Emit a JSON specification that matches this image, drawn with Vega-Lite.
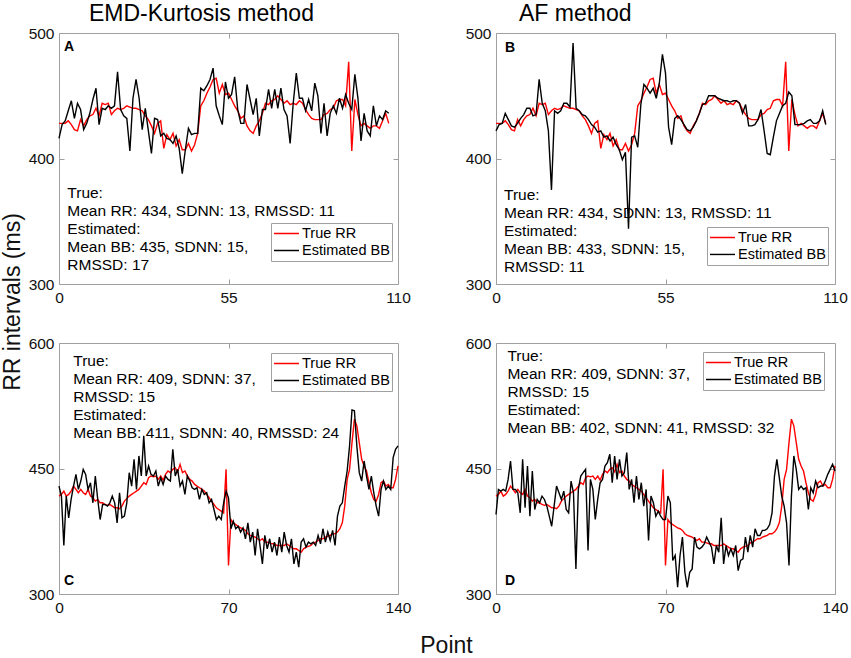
{
"$schema":"https://vega.github.io/schema/vega-lite/v6.json",
"padding":{"top":2,"left":0,"right":0,"bottom":0},
"config":{
 "font":"Liberation Sans",
 "view":{"stroke":"#a0a0a0"},
 "axis":{"grid":false,"domain":false,"tickSize":-5,"tickColor":"#a0a0a0","labelFontSize":15.5,"labelColor":"#111111","labelPadding":10,"labelFlush":false,"titleFontWeight":"normal","titleColor":"#111111","titleFontSize":23},
 "axisX":{"labelPadding":11},
 "legend":{"symbolType":"stroke","symbolSize":625,"symbolStrokeWidth":1.3,"labelFontSize":14.5,"labelColor":"#000000","fillColor":"#ffffff","strokeColor":"#a0a0a0","padding":2,"rowPadding":0,"clipHeight":17,"labelOffset":2,"labelLimit":300},
 "title":{"fontWeight":"normal"}
},
"datasets":{
"ab":[
{"i":0,"rr":428,"a":416,"b":422},{"i":1,"rr":428,"a":427,"b":427},{"i":2,"rr":428,"a":430,"b":428},{"i":3,"rr":430,"a":438,"b":436},{"i":4,"rr":427,"a":446,"b":431},{"i":5,"rr":423,"a":432,"b":426},{"i":6,"rr":422,"a":444,"b":425},{"i":7,"rr":431,"a":439,"b":428},{"i":8,"rr":426,"a":423,"b":432},{"i":9,"rr":431,"a":428,"b":435},
{"i":10,"rr":434,"a":436,"b":440},{"i":11,"rr":435,"a":447,"b":440},{"i":12,"rr":440,"a":456,"b":434},{"i":13,"rr":434,"a":427,"b":435},{"i":14,"rr":444,"a":440,"b":463},{"i":15,"rr":443,"a":439,"b":444},{"i":16,"rr":444,"a":442,"b":438},{"i":17,"rr":435,"a":440,"b":422},{"i":18,"rr":438,"a":442,"b":375},{"i":19,"rr":440,"a":469,"b":438},
{"i":20,"rr":439,"a":439,"b":436},{"i":21,"rr":440,"a":434,"b":438},{"i":22,"rr":442,"a":432,"b":444},{"i":23,"rr":441,"a":406,"b":444},{"i":24,"rr":440,"a":448,"b":441},{"i":25,"rr":440,"a":463,"b":492},{"i":26,"rr":439,"a":448,"b":440},{"i":27,"rr":438,"a":423,"b":438},{"i":28,"rr":434,"a":440,"b":435},{"i":29,"rr":431,"a":422,"b":434},
{"i":30,"rr":426,"a":404,"b":431},{"i":31,"rr":420,"a":432,"b":427},{"i":32,"rr":428,"a":431,"b":425},{"i":33,"rr":430,"a":418,"b":421},{"i":34,"rr":408,"a":420,"b":422},{"i":35,"rr":419,"a":416,"b":417},{"i":36,"rr":415,"a":415,"b":418},{"i":37,"rr":420,"a":412,"b":414},{"i":38,"rr":410,"a":418,"b":417},{"i":39,"rr":415,"a":408,"b":411},
{"i":40,"rr":407,"a":388,"b":407},{"i":41,"rr":407,"a":407,"b":399},{"i":42,"rr":412,"a":424,"b":405},{"i":43,"rr":406,"a":419,"b":344},{"i":44,"rr":411,"a":420,"b":417},{"i":45,"rr":420,"a":420,"b":418},{"i":46,"rr":442,"a":456,"b":409},{"i":47,"rr":446,"a":454,"b":443},{"i":48,"rr":452,"a":458,"b":459},{"i":49,"rr":457,"a":463,"b":456},
{"i":50,"rr":463,"a":472,"b":452},{"i":51,"rr":464,"a":442,"b":456},{"i":52,"rr":452,"a":434,"b":448},{"i":53,"rr":459,"a":427,"b":460},{"i":54,"rr":451,"a":461,"b":483},{"i":55,"rr":452,"a":448,"b":468},{"i":56,"rr":447,"a":451,"b":425},{"i":57,"rr":442,"a":465,"b":411},{"i":58,"rr":438,"a":439,"b":432},{"i":59,"rr":432,"a":428,"b":434},
{"i":60,"rr":434,"a":428,"b":431},{"i":61,"rr":426,"a":459,"b":427},{"i":62,"rr":422,"a":447,"b":423},{"i":63,"rr":420,"a":435,"b":422},{"i":64,"rr":426,"a":448,"b":425},{"i":65,"rr":430,"a":418,"b":430},{"i":66,"rr":436,"a":439,"b":436},{"i":67,"rr":444,"a":439,"b":443},{"i":68,"rr":443,"a":455,"b":444},{"i":69,"rr":446,"a":440,"b":450},
{"i":70,"rr":447,"a":455,"b":450},{"i":71,"rr":450,"a":440,"b":450},{"i":72,"rr":447,"a":456,"b":448},{"i":73,"rr":444,"a":439,"b":447},{"i":74,"rr":446,"a":434,"b":446},{"i":75,"rr":443,"a":412,"b":446},{"i":76,"rr":444,"a":444,"b":445},{"i":77,"rr":443,"a":468,"b":446},{"i":78,"rr":446,"a":448,"b":446},{"i":79,"rr":444,"a":448,"b":444},
{"i":80,"rr":439,"a":438,"b":436},{"i":81,"rr":435,"a":447,"b":443},{"i":82,"rr":432,"a":438,"b":426},{"i":83,"rr":431,"a":460,"b":426},{"i":84,"rr":431,"a":450,"b":427},{"i":85,"rr":431,"a":420,"b":431},{"i":86,"rr":435,"a":444,"b":439},{"i":87,"rr":436,"a":418,"b":422},{"i":88,"rr":439,"a":436,"b":404},{"i":89,"rr":440,"a":442,"b":403},
{"i":90,"rr":446,"a":436,"b":417},{"i":91,"rr":447,"a":448,"b":430},{"i":92,"rr":447,"a":440,"b":436},{"i":93,"rr":442,"a":451,"b":442},{"i":94,"rr":477,"a":444,"b":444},{"i":95,"rr":406,"a":439,"b":453},{"i":96,"rr":447,"a":467,"b":450},{"i":97,"rr":435,"a":448,"b":427},{"i":98,"rr":426,"a":414,"b":427},{"i":99,"rr":428,"a":436,"b":427},
{"i":100,"rr":426,"a":422,"b":428},{"i":101,"rr":424,"a":418,"b":430},{"i":102,"rr":426,"a":442,"b":431},{"i":103,"rr":426,"a":426,"b":428},{"i":104,"rr":424,"a":434,"b":428},{"i":105,"rr":430,"a":431,"b":430},{"i":106,"rr":436,"a":438,"b":438},{"i":107,"rr":428,"a":436,"b":427}
],
"cd":[
{"i":0,"rr":417,"c":429,"d":395},{"i":1,"rr":419,"c":417,"d":425},{"i":2,"rr":423,"c":358,"d":423},{"i":3,"rr":417,"c":417,"d":425},{"i":4,"rr":419,"c":391,"d":423},{"i":5,"rr":423,"c":413,"d":437},{"i":6,"rr":429,"c":429,"d":459},{"i":7,"rr":425,"c":443,"d":425},{"i":8,"rr":421,"c":425,"d":425},{"i":9,"rr":425,"c":435,"d":421},
{"i":10,"rr":421,"c":449,"d":397},{"i":11,"rr":419,"c":443,"d":461},{"i":12,"rr":425,"c":425,"d":403},{"i":13,"rr":417,"c":433,"d":453},{"i":14,"rr":415,"c":409,"d":393},{"i":15,"rr":411,"c":441,"d":447},{"i":16,"rr":413,"c":413,"d":401},{"i":17,"rr":409,"c":389,"d":413},{"i":18,"rr":409,"c":407,"d":409},{"i":19,"rr":407,"c":407,"d":417},
{"i":20,"rr":406,"c":405,"d":413},{"i":21,"rr":407,"c":409,"d":405},{"i":22,"rr":405,"c":417,"d":393},{"i":23,"rr":403,"c":409,"d":381},{"i":24,"rr":403,"c":385,"d":405},{"i":25,"rr":402,"c":421,"d":429},{"i":26,"rr":405,"c":391,"d":421},{"i":27,"rr":411,"c":393,"d":413},{"i":28,"rr":414,"c":409,"d":423},{"i":29,"rr":417,"c":445,"d":401},
{"i":30,"rr":419,"c":429,"d":397},{"i":31,"rr":421,"c":461,"d":435},{"i":32,"rr":423,"c":425,"d":421},{"i":33,"rr":425,"c":465,"d":330},{"i":34,"rr":429,"c":441,"d":425},{"i":35,"rr":433,"c":489,"d":441},{"i":36,"rr":431,"c":441,"d":445},{"i":37,"rr":439,"c":453,"d":449},{"i":38,"rr":441,"c":443,"d":352},{"i":39,"rr":440,"c":441,"d":437},
{"i":40,"rr":441,"c":447,"d":425},{"i":41,"rr":437,"c":429,"d":389},{"i":42,"rr":441,"c":439,"d":413},{"i":43,"rr":436,"c":431,"d":433},{"i":44,"rr":443,"c":441,"d":437},{"i":45,"rr":447,"c":437,"d":453},{"i":46,"rr":445,"c":435,"d":457},{"i":47,"rr":449,"c":473,"d":467},{"i":48,"rr":451,"c":441,"d":433},{"i":49,"rr":446,"c":449,"d":465},
{"i":50,"rr":455,"c":429,"d":437},{"i":51,"rr":445,"c":435,"d":461},{"i":52,"rr":447,"c":419,"d":441},{"i":53,"rr":441,"c":441,"d":445},{"i":54,"rr":437,"c":435,"d":469},{"i":55,"rr":435,"c":427,"d":425},{"i":56,"rr":431,"c":425,"d":437},{"i":57,"rr":429,"c":427,"d":409},{"i":58,"rr":427,"c":413,"d":441},{"i":59,"rr":425,"c":425,"d":413},
{"i":60,"rr":423,"c":419,"d":433},{"i":61,"rr":419,"c":421,"d":405},{"i":62,"rr":415,"c":409,"d":425},{"i":63,"rr":411,"c":413,"d":364},{"i":64,"rr":407,"c":401,"d":417},{"i":65,"rr":403,"c":389,"d":409},{"i":66,"rr":401,"c":393,"d":393},{"i":67,"rr":399,"c":389,"d":399},{"i":68,"rr":397,"c":409,"d":393},{"i":69,"rr":449,"c":423,"d":389},
{"i":70,"rr":334,"c":415,"d":389},{"i":71,"rr":389,"c":378,"d":417},{"i":72,"rr":385,"c":387,"d":409},{"i":73,"rr":383,"c":378,"d":340},{"i":74,"rr":381,"c":381,"d":346},{"i":75,"rr":379,"c":374,"d":308},{"i":76,"rr":378,"c":379,"d":346},{"i":77,"rr":376,"c":366,"d":368},{"i":78,"rr":372,"c":385,"d":326},{"i":79,"rr":370,"c":362,"d":308},
{"i":80,"rr":369,"c":374,"d":326},{"i":81,"rr":368,"c":346,"d":330},{"i":82,"rr":366,"c":378,"d":368},{"i":83,"rr":364,"c":358,"d":356},{"i":84,"rr":366,"c":336,"d":354},{"i":85,"rr":362,"c":370,"d":356},{"i":86,"rr":362,"c":354,"d":360},{"i":87,"rr":361,"c":366,"d":368},{"i":88,"rr":360,"c":350,"d":362},{"i":89,"rr":360,"c":362,"d":356},
{"i":90,"rr":358,"c":346,"d":336},{"i":91,"rr":358,"c":368,"d":358},{"i":92,"rr":358,"c":350,"d":350},{"i":93,"rr":358,"c":374,"d":391},{"i":94,"rr":360,"c":358,"d":336},{"i":95,"rr":358,"c":350,"d":358},{"i":96,"rr":356,"c":366,"d":346},{"i":97,"rr":354,"c":336,"d":354},{"i":98,"rr":354,"c":350,"d":346},{"i":99,"rr":352,"c":332,"d":358},
{"i":100,"rr":350,"c":362,"d":328},{"i":101,"rr":354,"c":366,"d":340},{"i":102,"rr":356,"c":356,"d":342},{"i":103,"rr":357,"c":362,"d":368},{"i":104,"rr":358,"c":360,"d":350},{"i":105,"rr":361,"c":362,"d":370},{"i":106,"rr":362,"c":358,"d":356},{"i":107,"rr":364,"c":370,"d":378},{"i":108,"rr":366,"c":360,"d":370},{"i":109,"rr":366,"c":378,"d":370},
{"i":110,"rr":368,"c":362,"d":376},{"i":111,"rr":369,"c":374,"d":376},{"i":112,"rr":370,"c":364,"d":378},{"i":113,"rr":372,"c":376,"d":383},{"i":114,"rr":372,"c":358,"d":397},{"i":115,"rr":374,"c":393,"d":441},{"i":116,"rr":378,"c":405,"d":461},{"i":117,"rr":385,"c":409,"d":439},{"i":118,"rr":405,"c":429,"d":417},{"i":119,"rr":437,"c":447,"d":405},
{"i":120,"rr":449,"c":477,"d":385},{"i":121,"rr":481,"c":520,"d":334},{"i":122,"rr":509,"c":519,"d":417},{"i":123,"rr":501,"c":477,"d":465},{"i":124,"rr":481,"c":445,"d":449},{"i":125,"rr":461,"c":435,"d":425},{"i":126,"rr":453,"c":459,"d":429},{"i":127,"rr":447,"c":441,"d":425},{"i":128,"rr":433,"c":425,"d":427},{"i":129,"rr":421,"c":441,"d":401},
{"i":130,"rr":413,"c":421,"d":427},{"i":131,"rr":411,"c":405,"d":421},{"i":132,"rr":419,"c":393,"d":435},{"i":133,"rr":433,"c":425,"d":427},{"i":134,"rr":435,"c":435,"d":429},{"i":135,"rr":429,"c":425,"d":429},{"i":136,"rr":431,"c":429,"d":435},{"i":137,"rr":427,"c":425,"d":443},{"i":138,"rr":427,"c":463,"d":449},{"i":139,"rr":437,"c":473,"d":455},
{"i":140,"rr":453,"c":477,"d":447}
]
},
"columns":2,
"spacing":{"row":59,"column":98},
"bounds":"flush",
"resolve":{"scale":{"color":"independent"},"legend":{"color":"independent"}},
"concat":[
{
 "width":339,"height":251,
 "title":{"text":"EMD-Kurtosis method","anchor":"start","frame":"group","dx":30,"offset":0,"fontSize":23,"fontWeight":"normal","color":"#000000"},
 "resolve":{"axis":{"x":"independent","y":"independent"}},
 "layer":[
  {"data":{"name":"ab"},"mark":{"type":"line","strokeWidth":1.4},
   "encoding":{
    "x":{"field":"i","type":"quantitative","scale":{"domain":[0,110],"nice":false,"zero":false},"axis":{"values":[0,55,110],"title":null}},
    "y":{"field":"rr","type":"quantitative","scale":{"domain":[300,500],"nice":false,"zero":false},"axis":{"values":[300,400,500],"title":"RR intervals (ms)","titleX":-40,"titleY":268.5,"titleBaseline":"alphabetic","titleAngle":-90}},
    "color":{"datum":"True RR","type":"nominal","scale":{"domain":["True RR","Estimated BB"],"range":["#ff0000","#000000"]},"legend":{"title":null,"orient":"none","legendX":212,"legendY":190}}
   }},
  {"data":{"name":"ab"},"mark":{"type":"line","strokeWidth":1.4},
   "encoding":{
    "x":{"field":"i","type":"quantitative","axis":{"orient":"top","values":[55],"labels":false,"title":null}},
    "y":{"field":"a","type":"quantitative","axis":{"orient":"right","values":[400],"labels":false,"title":null}},
    "color":{"datum":"Estimated BB","type":"nominal"}
   }},
  {"data":{"values":[{}]},"mark":{"type":"text","text":["True:","Mean RR: 434, SDNN: 13, RMSSD: 11","Estimated:","Mean BB: 435, SDNN: 15,","RMSSD: 17"],"align":"left","baseline":"top","fontSize":15.5,"lineHeight":18,"color":"#000000"},
   "encoding":{"x":{"datum":2.7,"type":"quantitative","axis":null},"y":{"datum":377.8,"type":"quantitative","axis":null}}},
  {"data":{"values":[{}]},"mark":{"type":"text","text":"A","align":"left","baseline":"alphabetic","fontSize":14,"fontWeight":"bold","color":"#000000"},
   "encoding":{"x":{"datum":1.6,"type":"quantitative","axis":null},"y":{"datum":486,"type":"quantitative","axis":null}}}
 ]
},
{
 "width":339,"height":251,
 "title":{"text":"AF method","anchor":"start","frame":"group","dx":23,"offset":0,"fontSize":23,"fontWeight":"normal","color":"#000000"},
 "resolve":{"axis":{"x":"independent","y":"independent"}},
 "layer":[
  {"data":{"name":"ab"},"mark":{"type":"line","strokeWidth":1.4},
   "encoding":{
    "x":{"field":"i","type":"quantitative","scale":{"domain":[0,110],"nice":false,"zero":false},"axis":{"values":[0,55,110],"title":null}},
    "y":{"field":"rr","type":"quantitative","scale":{"domain":[300,500],"nice":false,"zero":false},"axis":{"values":[300,400,500],"title":null}},
    "color":{"datum":"True RR","type":"nominal","scale":{"domain":["True RR","Estimated BB"],"range":["#ff0000","#000000"]},"legend":{"title":null,"orient":"none","legendX":211,"legendY":194}}
   }},
  {"data":{"name":"ab"},"mark":{"type":"line","strokeWidth":1.4},
   "encoding":{
    "x":{"field":"i","type":"quantitative","axis":{"orient":"top","values":[55],"labels":false,"title":null}},
    "y":{"field":"b","type":"quantitative","axis":{"orient":"right","values":[400],"labels":false,"title":null}},
    "color":{"datum":"Estimated BB","type":"nominal"}
   }},
  {"data":{"values":[{}]},"mark":{"type":"text","text":["True:","Mean RR: 434, SDNN: 13, RMSSD: 11","Estimated:","Mean BB: 433, SDNN: 15,","RMSSD: 11"],"align":"left","baseline":"top","fontSize":15.5,"lineHeight":18,"color":"#000000"},
   "encoding":{"x":{"datum":2.6,"type":"quantitative","axis":null},"y":{"datum":376.4,"type":"quantitative","axis":null}}},
  {"data":{"values":[{}]},"mark":{"type":"text","text":"B","align":"left","baseline":"alphabetic","fontSize":14,"fontWeight":"bold","color":"#000000"},
   "encoding":{"x":{"datum":2.9,"type":"quantitative","axis":null},"y":{"datum":485,"type":"quantitative","axis":null}}}
 ]
},
{
 "width":339,"height":251,
 "resolve":{"axis":{"x":"independent","y":"independent"}},
 "layer":[
  {"data":{"name":"cd"},"mark":{"type":"line","strokeWidth":1.4},
   "encoding":{
    "x":{"field":"i","type":"quantitative","scale":{"domain":[0,140],"nice":false,"zero":false},"axis":{"values":[0,70,140],"title":"Point","titleX":387,"titleY":58,"titleBaseline":"alphabetic"}},
    "y":{"field":"rr","type":"quantitative","scale":{"domain":[300,600],"nice":false,"zero":false},"axis":{"values":[300,450,600],"title":null}},
    "color":{"datum":"True RR","type":"nominal","scale":{"domain":["True RR","Estimated BB"],"range":["#ff0000","#000000"]},"legend":{"title":null,"orient":"none","legendX":212,"legendY":10}}
   }},
  {"data":{"name":"cd"},"mark":{"type":"line","strokeWidth":1.4},
   "encoding":{
    "x":{"field":"i","type":"quantitative","axis":{"orient":"top","values":[70],"labels":false,"title":null}},
    "y":{"field":"c","type":"quantitative","axis":{"orient":"right","values":[450],"labels":false,"title":null}},
    "color":{"datum":"Estimated BB","type":"nominal"}
   }},
  {"data":{"values":[{}]},"mark":{"type":"text","text":["True:","Mean RR: 409, SDNN: 37,","RMSSD: 15","Estimated:","Mean BB: 411, SDNN: 40, RMSSD: 24"],"align":"left","baseline":"top","fontSize":15.5,"lineHeight":18,"color":"#000000"},
   "encoding":{"x":{"datum":5.9,"type":"quantitative","axis":null},"y":{"datum":587.1,"type":"quantitative","axis":null}}},
  {"data":{"values":[{}]},"mark":{"type":"text","text":"C","align":"left","baseline":"alphabetic","fontSize":14,"fontWeight":"bold","color":"#000000"},
   "encoding":{"x":{"datum":2.1,"type":"quantitative","axis":null},"y":{"datum":310.7,"type":"quantitative","axis":null}}}
 ]
},
{
 "width":339,"height":251,
 "resolve":{"axis":{"x":"independent","y":"independent"}},
 "layer":[
  {"data":{"name":"cd"},"mark":{"type":"line","strokeWidth":1.4},
   "encoding":{
    "x":{"field":"i","type":"quantitative","scale":{"domain":[0,140],"nice":false,"zero":false},"axis":{"values":[0,70,140],"title":null}},
    "y":{"field":"rr","type":"quantitative","scale":{"domain":[300,600],"nice":false,"zero":false},"axis":{"values":[300,450,600],"title":null}},
    "color":{"datum":"True RR","type":"nominal","scale":{"domain":["True RR","Estimated BB"],"range":["#ff0000","#000000"]},"legend":{"title":null,"orient":"none","legendX":207,"legendY":9}}
   }},
  {"data":{"name":"cd"},"mark":{"type":"line","strokeWidth":1.4},
   "encoding":{
    "x":{"field":"i","type":"quantitative","axis":{"orient":"top","values":[70],"labels":false,"title":null}},
    "y":{"field":"d","type":"quantitative","axis":{"orient":"right","values":[450],"labels":false,"title":null}},
    "color":{"datum":"Estimated BB","type":"nominal"}
   }},
  {"data":{"values":[{}]},"mark":{"type":"text","text":["True:","Mean RR: 409, SDNN: 37,","RMSSD: 15","Estimated:","Mean BB: 402, SDNN: 41, RMSSD: 32"],"align":"left","baseline":"top","fontSize":15.5,"lineHeight":18,"color":"#000000"},
   "encoding":{"x":{"datum":4.7,"type":"quantitative","axis":null},"y":{"datum":592.3,"type":"quantitative","axis":null}}},
  {"data":{"values":[{}]},"mark":{"type":"text","text":"D","align":"left","baseline":"alphabetic","fontSize":14,"fontWeight":"bold","color":"#000000"},
   "encoding":{"x":{"datum":3.7,"type":"quantitative","axis":null},"y":{"datum":310.7,"type":"quantitative","axis":null}}}
 ]
}
]
}
